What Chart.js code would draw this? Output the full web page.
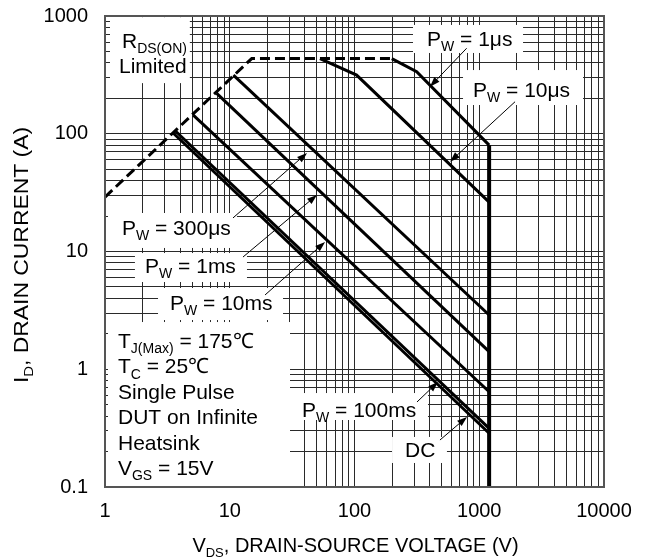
<!DOCTYPE html>
<html>
<head>
<meta charset="utf-8">
<title>Safe Operating Area</title>
<script src="https://cdn.jsdelivr.net/npm/chart.js@4/dist/chart.umd.min.js"></script>
<style>
  body { margin: 0; background: #fff; }
  canvas { display: block; }
</style>
</head>
<body>
<canvas id="soa" width="652" height="557"></canvas>
<script>
// curves: V in volts, I in amps
var rdsV = [1, 15, 199];
var rdsI = [29, 435, 435];
var us1V = [199, 315, 1200];
var us1I = [435, 336, 80];
var vdssV = [1200, 1200];
var vdssI = [80, 0.1];
var us10V = [52.9, 104, 1200];
var us10I = [435, 315, 26.3];
var us300V = [10.7, 1200];
var us300I = [315, 2.89];
var ms1V = [7.86, 1200];
var ms1I = [220, 1.41];
var ms10V = [5.1, 1200];
var ms10I = [144, 0.644];
var ms100V = [3.65, 1200];
var ms100I = [106, 0.315];
var dcV = [3.5, 1200];
var dcI = [102, 0.286];

var xTicks = [1, 10, 100, 1000, 10000];
var yTicks = [0.1, 1, 10, 100, 1000];

var FONT = "'Liberation Sans', Arial, Helvetica, sans-serif";

// text boxes, positions in log10 units of (V, I)
var notes = [
  {box: [0.04, 2.99, 0.68, 2.43], text: [[0.136, 2.728, [['R'], ['DS(ON)', 1]]], [0.112, 2.516, [['Limited']]]]},
  {box: [2.469, 2.924, 3.351, 2.686], text: [[2.581, 2.748, [['P'], ['W', 1], [' = 1\u03bcs']]]], arrow: [2.899, 2.726, 2.605, 2.400]},
  {box: [2.870, 2.541, 3.832, 2.244], text: [[2.950, 2.312, [['P'], ['W', 1], [' = 10\u03bcs']]]], arrow: [3.287, 2.272, 2.766, 1.763]},
  {box: [0.024, 1.327, 1.058, 1.030], text: [[0.136, 1.140, [['P'], ['W', 1], [' = 300\u03bcs']]]], arrow: [1.026, 1.285, 1.619, 1.837]},
  {box: [0.240, 0.987, 1.138, 0.741], text: [[0.321, 0.817, [['P'], ['W', 1], [' = 1ms']]]], arrow: [1.106, 0.953, 1.699, 1.480]},
  {box: [0.425, 0.690, 1.427, 0.418], text: [[0.521, 0.503, [['P'], ['W', 1], [' = 10ms']]]], arrow: [1.283, 0.631, 1.764, 1.081]},
  {box: [0.024, 0.401, 1.483, -1], text: [
    [0.104, 0.180, [['T'], ['J(Max)', 1], [' = 175\u2103']]],
    [0.104, -0.036, [['T'], ['C', 1], [' = 25\u2103']]],
    [0.104, -0.251, [['Single Pulse']]],
    [0.104, -0.467, [['DUT on Infinite']]],
    [0.104, -0.682, [['Heatsink']]],
    [0.104, -0.898, [['V'], ['GS', 1], [' = 15V']]]]},
  {box: [1.483, -0.202, 2.589, -0.431], text: [[1.579, -0.405, [['P'], ['W', 1], [' = 100ms']]]], arrow: [2.501, -0.278, 2.669, -0.108]},
  {box: [2.301, -0.575, 2.741, -0.796], text: [[2.405, -0.745, [['DC']]]], arrow: [2.685, -0.601, 2.902, -0.405]}
];

function pts(xs, ys) {
  return xs.map(function (v, i) { return {x: v, y: ys[i]}; });
}
function curve(xs, ys, w, dash) {
  return {data: pts(xs, ys), showLine: true, borderColor: '#000', borderWidth: w,
    borderDash: dash || [], pointRadius: 0, tension: 0, fill: false,
    borderCapStyle: 'butt', borderJoinStyle: 'miter'};
}
function gridValues(majors) {
  var out = [];
  for (var i = 0; i < majors.length - 1; i++) {
    for (var k = 1; k < 10; k++) out.push(k * majors[i]);
  }
  out.push(majors[majors.length - 1]);
  return out.map(function (v) { return {value: v}; });
}

function rich(ctx, parts, x, y, size) {
  var sub = Math.round(size * 0.66);
  parts.forEach(function (p) {
    ctx.font = (p[1] ? sub : size) + 'px ' + FONT;
    ctx.fillText(p[0], x, y + (p[1] ? size * 0.25 : 0));
    x += ctx.measureText(p[0]).width;
  });
  return x;
}
function richWidth(ctx, parts, size) {
  var sub = Math.round(size * 0.66), w = 0;
  parts.forEach(function (p) {
    ctx.font = (p[1] ? sub : size) + 'px ' + FONT;
    w += ctx.measureText(p[0]).width;
  });
  return w;
}
function arrow(ctx, x0, y0, x1, y1) {
  var a = Math.atan2(y1 - y0, x1 - x0), L = 10, W = 3.5;
  var c = Math.cos(a), s = Math.sin(a);
  ctx.lineWidth = 1;
  ctx.beginPath();
  ctx.moveTo(x0, y0);
  ctx.lineTo(x1 - L * c * 0.8, y1 - L * s * 0.8);
  ctx.stroke();
  ctx.beginPath();
  ctx.moveTo(x1, y1);
  ctx.lineTo(x1 - L * c + W * s, y1 - L * s - W * c);
  ctx.lineTo(x1 - L * c - W * s, y1 - L * s + W * c);
  ctx.closePath();
  ctx.fill();
}

var labelsPlugin = {
  id: 'soaLabels',
  beforeDatasetsDraw: function (chart) {
    var ctx = chart.ctx, xs = chart.scales.x, ys = chart.scales.y;
    var px = function (l) { return xs.getPixelForValue(Math.pow(10, l)); };
    var py = function (l) { return ys.getPixelForValue(Math.pow(10, l)); };
    ctx.save();
    notes.forEach(function (n) {
      ctx.fillStyle = '#fff';
      ctx.fillRect(px(n.box[0]), py(n.box[1]), px(n.box[2]) - px(n.box[0]), py(n.box[3]) - py(n.box[1]));
      ctx.fillStyle = '#000';
      ctx.textBaseline = 'alphabetic';
      ctx.textAlign = 'left';
      n.text.forEach(function (t) { rich(ctx, t[2], px(t[0]), py(t[1]), 21); });
    });
    ctx.restore();
  },
  afterDatasetsDraw: function (chart) {
    var ctx = chart.ctx, xs = chart.scales.x, ys = chart.scales.y;
    var px = function (l) { return xs.getPixelForValue(Math.pow(10, l)); };
    var py = function (l) { return ys.getPixelForValue(Math.pow(10, l)); };
    ctx.save();
    ctx.strokeStyle = '#000';
    ctx.fillStyle = '#000';
    notes.forEach(function (n) {
      if (n.arrow) arrow(ctx, px(n.arrow[0]), py(n.arrow[1]), px(n.arrow[2]), py(n.arrow[3]));
    });
    ctx.restore();
  },
  afterDraw: function (chart) {
    var ctx = chart.ctx, a = chart.chartArea;
    ctx.save();
    ctx.strokeStyle = '#555';
    ctx.lineWidth = 2;
    ctx.strokeRect(a.left, a.top, a.right - a.left, a.bottom - a.top);

    ctx.fillStyle = '#000';
    ctx.textAlign = 'left';
    ctx.textBaseline = 'alphabetic';
    // x title
    var xt = [['V'], ['DS', 1], [', DRAIN-SOURCE VOLTAGE (V)']];
    var w = richWidth(ctx, xt, 20);
    rich(ctx, xt, (a.left + a.right) / 2 - w / 2 + 1, 552, 20);
    // y title
    var yt = [['I'], ['D', 1], [', DRAIN CURRENT (A)']];
    var wy = richWidth(ctx, yt, 20);
    ctx.translate(28, 255);
    ctx.rotate(-Math.PI / 2);
    ctx.scale(256 / wy, 1);
    rich(ctx, yt, -wy / 2, 0, 20);
    ctx.restore();
  }
};

var gridLook = {color: '#2a2a2a', lineWidth: 1, drawTicks: false};

new Chart(document.getElementById('soa'), {
  type: 'scatter',
  data: {
    datasets: [
      curve(rdsV, rdsI, 3, [10, 5]),
      curve(us1V, us1I, 3),
      curve(vdssV, vdssI, 4),
      curve(us10V, us10I, 3),
      curve(us300V, us300I, 3),
      curve(ms1V, ms1I, 3),
      curve(ms10V, ms10I, 3),
      curve(ms100V, ms100I, 3),
      curve(dcV, dcI, 3)
    ]
  },
  options: {
    responsive: false,
    animation: false,
    layout: {padding: {top: 16, right: 48, left: 0, bottom: 0}},
    plugins: {legend: {display: false}, tooltip: {enabled: false}},
    scales: {
      x: {
        type: 'logarithmic', position: 'bottom', min: 1, max: 10000,
        afterBuildTicks: function (s) { s.ticks = gridValues(xTicks); },
        afterFit: function (s) { s.height = 70; s.paddingLeft = 0; s.paddingRight = 0; },
        grid: gridLook,
        border: {color: '#555', width: 2},
        ticks: {
          autoSkip: false, maxRotation: 0, padding: 12, color: '#000',
          font: {family: FONT, size: 20},
          callback: function (v) { return xTicks.indexOf(v) >= 0 ? String(v) : ''; }
        }
      },
      y: {
        type: 'logarithmic', min: 0.1, max: 1000,
        afterBuildTicks: function (s) { s.ticks = gridValues(yTicks); },
        afterFit: function (s) { s.width = 105; s.paddingTop = 0; s.paddingBottom = 0; },
        grid: gridLook,
        border: {color: '#555', width: 2},
        ticks: {
          autoSkip: false, padding: 17, color: '#000',
          font: {family: FONT, size: 20},
          callback: function (v) { return yTicks.indexOf(v) >= 0 ? String(v) : ''; }
        }
      }
    }
  },
  plugins: [labelsPlugin]
});
</script>
</body>
</html>
